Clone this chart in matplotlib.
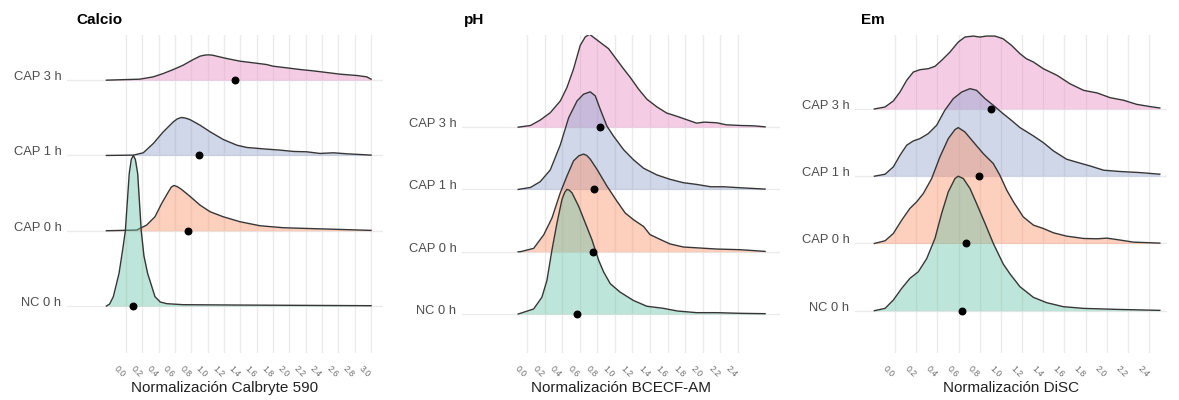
import numpy as np
import matplotlib
matplotlib.use("Agg")
import matplotlib.pyplot as plt

plt.rcParams['font.family'] = ['Liberation Sans', 'DejaVu Sans']

# grupos (de abajo hacia arriba)
groups = ["NC 0 h", "CAP 0 h", "CAP 1 h", "CAP 3 h"]
fill_colors = ["#66C2A5", "#FC8D62", "#8DA0CB", "#E78AC3"]

# ---- Calcio: curvas de densidad leidas (alturas relativas)
cal_nc_x = [-0.24, -0.20, -0.155, -0.085, -0.04, -0.008, 0.04, 0.065, 0.09, 0.115, 0.143, 0.187, 0.22, 0.265, 0.355, 0.42, 0.50, 0.70, 1.31, 2.13, 3.0]
cal_nc_h = [0, 6, 28, 98, 170, 225, 398, 440, 452, 440, 398, 225, 150, 98, 28, 12, 7, 4, 3, 2, 1]
cal_cap0_x = [-0.24, 0.13, 0.253, 0.355, 0.437, 0.52, 0.555, 0.588, 0.63, 0.68, 0.78, 0.906, 1.03, 1.19, 1.396, 1.64, 1.927, 2.33, 2.74, 3.0]
cal_cap0_h = [0, 2, 17, 42, 82, 117, 131, 136, 132, 124, 104, 77, 57, 42, 27, 15, 9, 6, 3, 1]
cal_cap1_x = [-0.24, 0.09, 0.212, 0.335, 0.457, 0.58, 0.63, 0.68, 0.73, 0.78, 0.906, 1.03, 1.19, 1.355, 1.478, 1.72, 1.886, 2.05, 2.21, 2.376, 2.54, 2.70, 3.0]
cal_cap1_h = [0, 1, 8, 36, 71, 101, 110, 114, 112, 108, 91, 71, 48, 31, 24, 19, 16, 12, 11, 6, 8, 5, 1]
cal_cap3_x = [-0.24, 0.17, 0.335, 0.457, 0.58, 0.70, 0.824, 0.906, 0.96, 1.008, 1.06, 1.11, 1.233, 1.396, 1.56, 1.72, 1.80, 1.967, 2.13, 2.29, 2.457, 2.62, 2.824, 2.947, 3.0]
cal_cap3_h = [0, 3, 10, 20, 32, 45, 62, 72, 75, 76, 75, 72, 65, 57, 52, 47, 42, 37, 32, 28, 23, 18, 14, 10, 3]
cal_points = [0.09, 0.763, 0.894, 1.335]

# ---- pH
ph_nc_x = [-0.10, -0.076, 0.076, 0.17, 0.227, 0.284, 0.341, 0.398, 0.43, 0.455, 0.48, 0.512, 0.588, 0.664, 0.74, 0.815, 0.872, 0.948, 1.06, 1.213, 1.365, 1.55, 1.71, 1.93, 2.16, 2.43, 2.71]
ph_nc_h = [0, 2, 15, 50, 100, 190, 270, 340, 362, 370, 368, 360, 320, 270, 220, 160, 125, 90, 65, 40, 23, 17, 9, 4, 4, 2, 1]
ph_cap0_x = [-0.10, -0.076, 0.076, 0.19, 0.284, 0.379, 0.455, 0.53, 0.59, 0.644, 0.68, 0.72, 0.796, 0.91, 1.024, 1.118, 1.213, 1.27, 1.327, 1.40, 1.52, 1.63, 1.78, 1.97, 2.16, 2.43, 2.71]
ph_cap0_h = [0, 0, 10, 50, 100, 175, 225, 270, 285, 290, 286, 275, 245, 195, 150, 115, 95, 85, 75, 51, 36, 23, 14, 11, 8, 6, 1]
ph_cap1_x = [-0.10, 0.04, 0.15, 0.265, 0.38, 0.474, 0.57, 0.644, 0.72, 0.777, 0.834, 0.91, 0.986, 1.10, 1.213, 1.327, 1.48, 1.63, 1.78, 1.93, 2.09, 2.24, 2.43, 2.71]
ph_cap1_h = [0, 6, 23, 58, 133, 213, 263, 283, 290, 278, 238, 188, 158, 118, 88, 63, 43, 30, 20, 15, 8, 8, 5, 1]
ph_cap3_x = [-0.10, 0.04, 0.15, 0.265, 0.38, 0.455, 0.53, 0.606, 0.663, 0.712, 0.777, 0.853, 0.929, 1.00, 1.10, 1.175, 1.27, 1.365, 1.48, 1.59, 1.71, 1.82, 1.93, 2.02, 2.16, 2.27, 2.43, 2.58, 2.71]
ph_cap3_h = [0, 5, 21, 43, 78, 118, 173, 243, 268, 276, 263, 248, 233, 208, 173, 148, 113, 83, 60, 42, 32, 22, 12, 15, 13, 7, 5, 4, 1]
ph_points = [0.569, 0.747, 0.766, 0.834]

# ---- Em
em_nc_x = [-0.195, -0.094, -0.016, 0.063, 0.14, 0.22, 0.30, 0.377, 0.44, 0.503, 0.566, 0.597, 0.645, 0.708, 0.77, 0.85, 0.928, 1.022, 1.087, 1.18, 1.307, 1.433, 1.59, 1.78, 2.09, 2.50]
em_nc_h = [0, 7, 32, 67, 97, 117, 157, 217, 292, 357, 397, 404, 397, 367, 322, 262, 202, 140, 110, 72, 40, 24, 12, 7, 4, 1]
em_cap0_x = [-0.195, -0.094, -0.016, 0.063, 0.14, 0.204, 0.267, 0.346, 0.424, 0.503, 0.566, 0.597, 0.66, 0.739, 0.833, 0.928, 0.99, 1.055, 1.118, 1.18, 1.21, 1.307, 1.40, 1.496, 1.62, 1.78, 1.91, 2.0, 2.13, 2.25, 2.50]
em_cap0_h = [0, 8, 30, 70, 105, 125, 150, 195, 260, 315, 342, 348, 335, 305, 270, 240, 205, 160, 125, 95, 80, 55, 45, 32, 22, 15, 14, 16, 10, 4, 1]
em_cap1_x = [-0.195, -0.094, -0.016, 0.047, 0.11, 0.173, 0.236, 0.314, 0.393, 0.47, 0.55, 0.63, 0.708, 0.77, 0.85, 0.928, 1.02, 1.087, 1.18, 1.307, 1.40, 1.496, 1.62, 1.75, 1.84, 1.97, 2.13, 2.31, 2.50]
em_cap1_h = [0, 6, 28, 63, 93, 106, 113, 128, 153, 198, 233, 253, 263, 258, 233, 213, 188, 171, 146, 121, 101, 76, 51, 39, 31, 18, 14, 11, 6]
em_cap3_x = [-0.195, -0.094, -0.016, 0.047, 0.11, 0.173, 0.236, 0.314, 0.377, 0.44, 0.519, 0.597, 0.66, 0.739, 0.80, 0.865, 0.943, 1.02, 1.10, 1.18, 1.24, 1.307, 1.40, 1.53, 1.65, 1.78, 1.91, 2.03, 2.16, 2.28, 2.41, 2.50]
em_cap3_h = [0, 6, 24, 51, 86, 111, 118, 121, 128, 146, 171, 201, 216, 219, 216, 219, 219, 211, 191, 166, 151, 141, 121, 101, 76, 56, 48, 34, 26, 14, 7, 3]
em_points = [0.633, 0.671, 0.797, 0.904]

panels = [
    dict(title="Calcio", xlabel="Normalización Calbryte 590",
         curves=[(cal_nc_x, cal_nc_h), (cal_cap0_x, cal_cap0_h), (cal_cap1_x, cal_cap1_h), (cal_cap3_x, cal_cap3_h)],
         points=cal_points, ticks=np.arange(0, 3.01, 0.2),
         box=(67, 383), xlim=(-0.722, 3.146), ylim=(0.376, 4.60), title_x=76),
    dict(title="pH", xlabel="Normalización BCECF-AM",
         curves=[(ph_nc_x, ph_nc_h), (ph_cap0_x, ph_cap0_h), (ph_cap1_x, ph_cap1_h), (ph_cap3_x, ph_cap3_h)],
         points=ph_points, ticks=np.arange(0, 2.41, 0.2),
         box=(462, 780), xlim=(-0.74, 2.88), ylim=(0.374, 5.48), title_x=464),
    dict(title="Em", xlabel="Normalización DiSC",
         curves=[(em_nc_x, em_nc_h), (em_cap0_x, em_cap0_h), (em_cap1_x, em_cap1_h), (em_cap3_x, em_cap3_h)],
         points=em_points, ticks=np.arange(0, 2.41, 0.2),
         box=(855, 1167), xlim=(-0.378, 2.568), ylim=(0.371, 5.10), title_x=861),
]

W, H = 1179, 400
fig = plt.figure(figsize=(W / 100, H / 100), dpi=100)
scale = 2.0
grid_col = "#ebebeb"

for p in panels:
    x0, x1 = p["box"]
    ax = fig.add_axes([x0 / W, (H - 353) / H, (x1 - x0) / W, (353 - 35) / H])
    ax.set_xlim(*p["xlim"])
    ax.set_ylim(*p["ylim"])
    for s in ax.spines.values():
        s.set_visible(False)
    for t in p["ticks"]:
        ax.axvline(t, color=grid_col, lw=1.0, zorder=0)
    hmax = max(max(h) for _, h in p["curves"])
    for i in range(4):
        ax.axhline(i + 1, color=grid_col, lw=1.0, zorder=0)
    # de arriba hacia abajo, las filas bajas quedan delante
    for i in range(3, -1, -1):
        cx, ch = p["curves"][i]
        cx = np.array(cx)
        top = i + 1 + np.array(ch) / hmax * scale
        ax.fill_between(cx, i + 1, top, color=fill_colors[i], alpha=0.42, lw=0, zorder=2 + (3 - i))
        ax.plot(cx, top, color="#363636", lw=1.0, zorder=2 + (3 - i), solid_joinstyle="round")
    ax.scatter(p["points"], [1, 2, 3, 4], s=22, color="black", zorder=20)

    ax.set_yticks([1, 2, 3, 4])
    ax.set_yticklabels(groups, fontsize=9.3, color="#4d4d4d")
    for lab in ax.get_yticklabels():
        lab.set_va("baseline")
    ax.tick_params(axis="y", length=0, pad=4)
    ax.set_xticks([])
    for t in p["ticks"]:
        ax.annotate(f"{t:.1f}", xy=(t, 0), xycoords=("data", "axes fraction"),
                    xytext=(-6, -19), textcoords="offset pixels", rotation=-45,
                    ha="center", va="center", fontsize=6.3, color="#6e6e6e")
    ax.text(0.5, -35 / 318, p["xlabel"], transform=ax.transAxes, ha="center", va="center",
            fontsize=11, color="#222222")
    fig.text(p["title_x"] / W, 1 - 20 / H, p["title"], ha="left", va="center",
             fontsize=11, fontweight="bold", color="black")

fig.savefig("out.png", dpi=100)
